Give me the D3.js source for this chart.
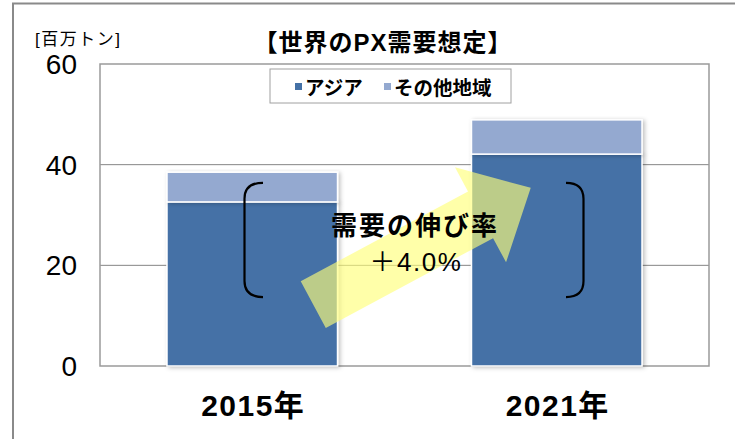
<!DOCTYPE html>
<html lang="ja">
<head>
<meta charset="utf-8">
<title>世界のPX需要想定</title>
<script src="https://d3js.org/d3.v7.min.js"></script>
<style>
  body { margin: 0; background: #fff; }
  svg { display: block; }
  text { font-family: "Liberation Sans", "Noto Sans CJK JP", sans-serif; fill: #000; }
</style>
</head>
<body>
<div id="chart"></div>
<script>
// data (百万トン)
var years = ["2015年", "2021年"];
var asia = [32.6, 42.1];
var others = [5.9, 6.8];
var seriesNames = ["アジア", "その他地域"];
var yTicks = [0, 20, 40, 60];

var width = 735, height = 439;
var colors = ["#4571a6", "#94a9d0"];

var svg = d3.select("#chart").append("svg")
    .attr("width", width)
    .attr("height", height);

var defs = svg.append("defs");
var sh = defs.append("filter").attr("id", "shadow")
    .attr("x", "-10%").attr("y", "-10%").attr("width", "130%").attr("height", "130%");
sh.append("feDropShadow").attr("dx", 2).attr("dy", 1)
    .attr("stdDeviation", 2).attr("flood-color", "#000").attr("flood-opacity", 0.25);

// outer frame (top + left edge)
svg.append("path")
    .attr("d", "M13,440 V3.5 H736")
    .attr("fill", "none").attr("stroke", "#8a8a8a").attr("stroke-width", 2);

var plot = { left: 100, right: 709, top: 64, bottom: 366 };

var x = d3.scaleBand().domain(years)
    .range([plot.left, plot.right])
    .paddingInner(0.44).paddingOuter(0.22);
var y = d3.scaleLinear().domain([0, 60]).range([plot.bottom, plot.top]);

// gridlines
svg.append("g").selectAll("line")
    .data(yTicks.filter(function(d){ return d > 0 && d < 60; }))
    .enter().append("line")
    .attr("x1", plot.left).attr("x2", plot.right)
    .attr("y1", function(d){ return y(d); }).attr("y2", function(d){ return y(d); })
    .attr("stroke", "#858585").attr("stroke-width", 1);

// plot frame
svg.append("rect")
    .attr("x", plot.left).attr("y", plot.top)
    .attr("width", plot.right - plot.left).attr("height", plot.bottom - plot.top)
    .attr("fill", "none").attr("stroke", "#9a9a9a").attr("stroke-width", 1.5);

// y tick labels
svg.append("g").selectAll("text")
    .data(yTicks).enter().append("text")
    .attr("x", 77).attr("y", function(d){ return y(d); })
    .attr("dy", "0.36em")
    .attr("text-anchor", "end")
    .attr("font-size", 28)
    .text(function(d){ return d; });

svg.append("text")
    .attr("x", 35).attr("y", 45)
    .attr("font-size", 17).attr("letter-spacing", 1.5)
    .text("[百万トン]");

// stacked bars
var stack = d3.stack().keys([0, 1])(years.map(function(d, i){ return [asia[i], others[i]]; }));
var bars = svg.append("g");
stack.forEach(function(layer, k){
    bars.selectAll(".s" + k)
        .data(layer).enter().append("rect")
        .attr("class", "s" + k)
        .attr("x", function(d, i){ return x(years[i]); })
        .attr("width", x.bandwidth())
        .attr("y", function(d){ return y(d[1]); })
        .attr("height", function(d){ return y(d[0]) - y(d[1]); })
        .attr("fill", colors[k])
        .attr("stroke", "#fff").attr("stroke-width", 1.5)
        .attr("filter", "url(#shadow)");
});

// title
svg.append("text")
    .attr("x", 383).attr("y", 51)
    .attr("text-anchor", "middle")
    .attr("font-size", 24).attr("font-weight", "bold").attr("letter-spacing", 1)
    .text("【世界のPX需要想定】");

// legend
var legend = svg.append("g");
legend.append("rect")
    .attr("x", 270).attr("y", 69).attr("width", 241).attr("height", 34)
    .attr("fill", "#fff").attr("stroke", "#a0a0a0").attr("stroke-width", 1);
var legX = [295, 384];
seriesNames.forEach(function(name, i){
    legend.append("rect")
        .attr("x", legX[i]).attr("y", 83).attr("width", 7).attr("height", 7)
        .attr("fill", colors[i]);
    legend.append("text")
        .attr("x", legX[i] + 10).attr("y", 95)
        .attr("font-size", 19.5).attr("font-weight", "bold")
        .text(name);
});

// x labels
svg.append("g").selectAll("text")
    .data(years).enter().append("text")
    .attr("x", function(d){ return x(d) + x.bandwidth() / 2 + 1; })
    .attr("y", 416)
    .attr("text-anchor", "middle")
    .attr("font-size", 30).attr("font-weight", "bold")
    .attr("letter-spacing", 1.5)
    .text(function(d){ return d; });

// growth arrow
var c0 = x(years[0]) + x.bandwidth() / 2, c1 = x(years[1]) + x.bandwidth() / 2;
var tail = [c0 + 61, y(12.2)], tip = [c1 - 26, y(35.4)];
var len = Math.hypot(tip[0] - tail[0], tip[1] - tail[1]);
var ang = Math.atan2(tip[1] - tail[1], tip[0] - tail[0]) * 180 / Math.PI;
var sw = 26.5, hw = 54, hl = 57;
var arrowPts = [[0, -sw], [len - hl, -sw], [len - hl, -hw], [len, 0], [len - hl, hw], [len - hl, sw], [0, sw]];
svg.append("path")
    .attr("d", d3.line()(arrowPts) + "Z")
    .attr("transform", "translate(" + tail + ") rotate(" + ang + ")")
    .attr("fill", "rgb(255,255,120)").attr("fill-opacity", 0.64);

// brackets
var bTop = y(36.4), bBot = y(13.7), r = 16;
function bracket(xEdge, xEnd) {
    return "M" + xEnd + "," + bTop +
        " Q" + xEdge + "," + bTop + " " + xEdge + "," + (bTop + r) +
        " V" + (bBot - r) +
        " Q" + xEdge + "," + bBot + " " + xEnd + "," + bBot;
}
svg.append("path").attr("d", bracket(244.5, 263))
    .attr("fill", "none").attr("stroke", "#000").attr("stroke-width", 2.2);
svg.append("path").attr("d", bracket(583.5, 566))
    .attr("fill", "none").attr("stroke", "#000").attr("stroke-width", 2.2);

svg.append("text")
    .attr("x", 415).attr("y", 235)
    .attr("text-anchor", "middle")
    .attr("font-size", 26).attr("font-weight", "bold").attr("letter-spacing", 2)
    .text("需要の伸び率");
svg.append("text")
    .attr("x", 416).attr("y", 271)
    .attr("text-anchor", "middle")
    .attr("font-size", 26).attr("letter-spacing", 1.5)
    .text("＋4.0%");
</script>
</body>
</html>
